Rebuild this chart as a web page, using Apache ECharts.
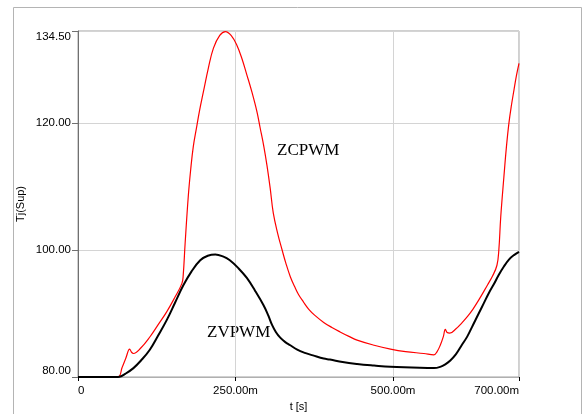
<!DOCTYPE html>
<html>
<head>
<meta charset="utf-8">
<script src="https://cdn.jsdelivr.net/npm/echarts@6/dist/echarts.min.js"></script>
<style>
html,body{margin:0;padding:0;background:#fff;}
#chart{width:584px;height:414px;}
</style>
</head>
<body>
<div id="chart"></div>
<script>
// time in ms
var zvpwmTime = [0, 60, 66, 75, 88, 100, 114, 127, 141, 154, 167, 180, 194, 206, 218, 230, 241, 255, 268, 281, 294.5, 302, 308, 314, 321, 329, 337, 348, 360, 373, 390, 400, 420, 443, 470, 496, 530, 565, 575, 583, 591, 600, 609, 618, 627, 636, 644, 652, 660, 668, 676, 684, 692, 700];
var zvpwmValue = [80, 80, 80.05, 80.5, 81.4, 82.6, 84.3, 86.5, 89.0, 91.7, 94.4, 96.6, 98.4, 99.1, 99.3, 99.0, 98.4, 97.1, 95.6, 93.6, 91.3, 89.7, 88.2, 87.1, 86.2, 85.5, 85.0, 84.3, 83.8, 83.4, 82.9, 82.75, 82.35, 82.05, 81.8, 81.6, 81.5, 81.4, 81.6, 82.0, 82.6, 83.6, 85.0, 86.4, 88.2, 90.0, 91.6, 93.2, 94.6, 96.1, 97.4, 98.5, 99.2, 99.7];

var zcpwmTime = [0, 63, 70, 76, 82, 85, 88, 100, 114, 127, 141, 154, 165, 167, 170, 175, 179, 183, 188, 193, 199, 207, 215, 225, 234, 243, 252, 260, 268, 276, 284, 289, 295, 300, 305, 310, 317, 324, 330, 337, 344, 350, 358, 366, 376, 390, 403, 416, 430, 443, 470, 496, 520, 549, 565, 570, 575, 580, 583, 586, 590, 600, 609, 618, 627, 636, 650, 658, 665, 668, 671, 676, 680, 684, 688, 692, 696, 700];
var zcpwmValue = [80, 80, 81.5, 83, 84.4, 83.9, 83.7, 84.6, 86.3, 88.2, 90.3, 92.6, 94.75, 96, 101, 108.4, 112.8, 116.3, 119.2, 122.0, 124.9, 128.7, 131.8, 133.8, 134.4, 133.8, 132.3, 130.2, 127.6, 124.9, 121.8, 119.3, 116.3, 113.3, 109.8, 105.8, 102.6, 100, 97.9, 95.8, 94.2, 93.0, 91.8, 90.7, 89.7, 88.6, 87.8, 87.1, 86.4, 85.8, 85.0, 84.4, 84.0, 83.7, 83.5, 84.0, 85.0, 86.4, 87.5, 87.0, 86.9, 87.6, 88.5, 89.5, 90.7, 92.1, 94.5, 95.9, 97.6, 100, 105.2, 111.5, 116.2, 120, 122.8, 125.2, 127.5, 129.4];

var xTicks = [0, 250, 500, 700];
var yTicks = [80, 100, 120, 134.5];

function pairs(t, v) { return t.map(function (x, i) { return [x, v[i]]; }); }

var FONT = '"Liberation Sans", Arial, sans-serif';
var chart = echarts.init(document.getElementById('chart'), null, {renderer: 'canvas'});
chart.setOption({
  animation: false,
  backgroundColor: '#ffffff',
  grid: {left: 78, right: 65, top: 31, bottom: 37, show: true, borderColor: '#a0a0a0', borderWidth: 1,
         containLabel: false, outerBoundsMode: 'none'},
  graphic: [
    {type: 'polyline', silent: true, z: -1,
     shape: {points: [[13.5, 414], [13.5, 7.5], [581.5, 7.5], [581.5, 414]]},
     style: {stroke: '#b4b4b4', lineWidth: 1, fill: null}},
    {type: 'text', left: 277, top: 142, style: {text: 'ZCPWM', font: '17px "Liberation Serif", "DejaVu Serif", serif', fill: '#000'}},
    {type: 'text', left: 207, top: 324, style: {text: 'ZVPWM', font: '17px "Liberation Serif", "DejaVu Serif", serif', fill: '#000'}}
  ],
  xAxis: {
    type: 'value', min: 0, max: 700, interval: 250,
    name: 't [s]', nameLocation: 'middle', nameGap: 24,
    nameTextStyle: {fontFamily: FONT, fontSize: 11, color: '#000'},
    axisLine: {show: true, lineStyle: {color: '#b0b0b0', width: 1}},
    axisTick: {show: true, length: 4, lineStyle: {color: '#000'}},
    axisLabel: {
      showMinLabel: true, showMaxLabel: true, margin: 8,
      alignMinLabel: 'left', alignMaxLabel: 'right',
      fontFamily: FONT, fontSize: 11.5, color: '#000',
      formatter: function (v) { return v === 0 ? '0' : v.toFixed(2) + 'm'; }
    },
    splitLine: {show: true, lineStyle: {color: '#d4d4d4', width: 1}}
  },
  yAxis: {
    type: 'value', min: 80, max: 134.5, interval: 20,
    name: 'Tj(Sup)', nameLocation: 'middle', nameGap: 52, nameMoveOverlap: false,
    nameTextStyle: {fontFamily: FONT, fontSize: 11, color: '#000'},
    axisLine: {show: true, lineStyle: {color: '#707070', width: 1}},
    axisTick: {show: true, length: 6, lineStyle: {color: '#707070'}},
    axisLabel: {
      showMinLabel: true, showMaxLabel: true, margin: 7,
      verticalAlignMinLabel: 'bottom', verticalAlignMaxLabel: 'top',
      fontFamily: FONT, fontSize: 11.5, color: '#000',
      formatter: function (v) { return v.toFixed(2); }
    },
    splitLine: {show: true, lineStyle: {color: '#d4d4d4', width: 1}}
  },
  series: [
    {name: 'ZCPWM', type: 'line', data: pairs(zcpwmTime, zcpwmValue), smooth: 0.4, showSymbol: false,
     lineStyle: {color: '#ff0000', width: 1.2}, z: 3},
    {name: 'ZVPWM', type: 'line', data: pairs(zvpwmTime, zvpwmValue), smooth: 0.4, showSymbol: false,
     lineStyle: {color: '#000000', width: 2}, z: 4}
  ]
});
</script>
</body>
</html>
